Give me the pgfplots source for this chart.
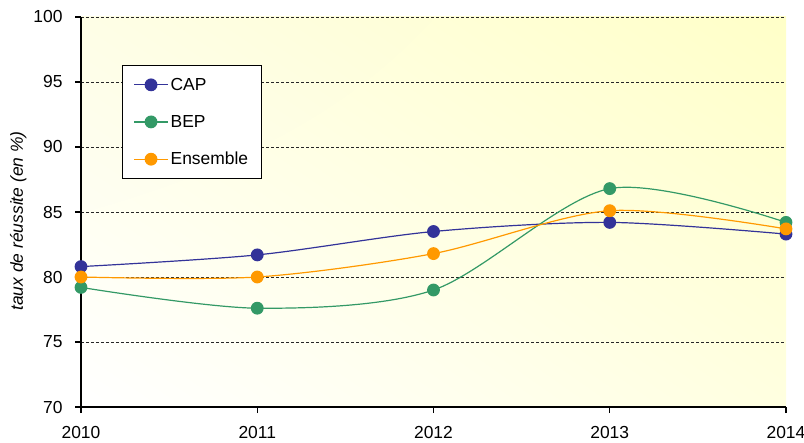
\documentclass[border=0pt]{standalone}
\usepackage{pgfplots}
\pgfplotsset{compat=1.18}
\usetikzlibrary{shadings}
\usepackage{fontspec}
\setmainfont{Liberation Sans}
\definecolor{capcol}{HTML}{333399}
\definecolor{bepcol}{HTML}{339966}
\definecolor{enscol}{HTML}{FF9900}
\definecolor{bgur}{HTML}{FFFFC8}
\definecolor{bgul}{HTML}{FEFEE6}
\definecolor{bglr}{HTML}{FFFFE0}
\begin{document}
\begin{tikzpicture}
\begin{axis}[
 at={(0,0)}, anchor=south west,
 scale only axis, width=705bp, height=390bp,
 xmin=2010, xmax=2014, ymin=70, ymax=100,
 xtick={2010,2011,2012,2013,2014}, ytick={70,75,80,85,90,95,100},
 axis lines*=left, axis line style={-, line width=1.1bp, black},
 tick align=outside, major tick length=6bp, tick style={black, line width=1.1bp},
 ymajorgrids, grid style={dash pattern=on 3bp off 2bp, black!85, line width=0.8bp},
 axis background/.style={shade, upper right=bgur, upper left=bgul, lower right=bglr, lower left=white},
 /pgf/number format/assume math mode=true,
 xticklabel style={/pgf/number format/1000 sep=, font=\fontsize{17.5}{20}\selectfont, yshift=-10bp},
 yticklabel style={font=\fontsize{17.5}{20}\selectfont, xshift=-9bp},
 ylabel={taux de réussite (en \%)},
 ylabel style={at={(axis description cs:-0.089,0.477)}, anchor=center, font=\fontsize{17.5}{20}\selectfont\itshape},
 legend style={at={(rel axis cs:0.058,0.877)}, anchor=north west, draw=black, line width=1.1bp, fill=white,
   font=\fontsize{17.5}{20}\selectfont, row sep=19.5bp, inner xsep=11bp, inner ysep=10.5bp},
 legend cell align=left,
 legend image code/.code={\draw[mark repeat=2,mark phase=2,#1] plot coordinates {(0bp,0bp)(17bp,0bp)(34bp,0bp)};},
 every axis plot/.append style={line width=1.2bp, smooth, tension=0.5},
]
\addplot[capcol, mark=*, mark size=5.8bp] coordinates {(2010,80.8) (2011,81.7) (2012,83.5) (2013,84.2) (2014,83.3)};
\addlegendentry{CAP}
\addplot[bepcol, mark=*, mark size=5.8bp] coordinates {(2010,79.2) (2011,77.6) (2012,79.0) (2013,86.8) (2014,84.2)};
\addlegendentry{BEP}
\addplot[enscol, mark=*, mark size=5.8bp] coordinates {(2010,80.0) (2011,80.0) (2012,81.8) (2013,85.1) (2014,83.7)};
\addlegendentry{Ensemble}
\end{axis}
\pgfresetboundingbox
\path[use as bounding box] (-81bp,-36bp) rectangle (723bp,407bp);
\end{tikzpicture}
\end{document}
